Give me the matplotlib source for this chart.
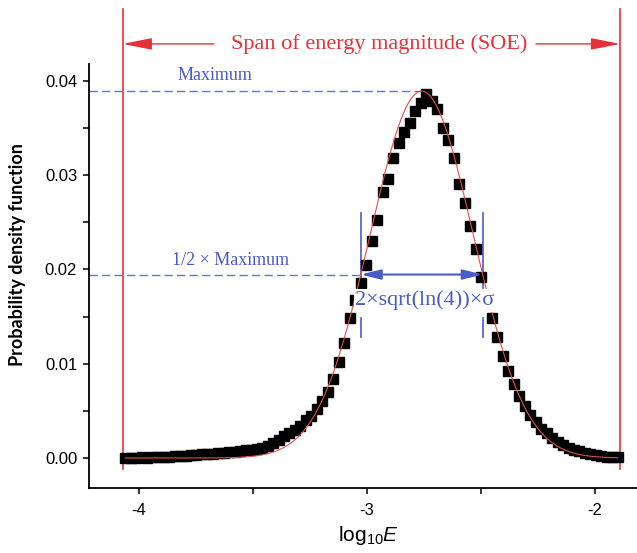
import matplotlib
matplotlib.use("Agg")
import matplotlib.pyplot as plt
import numpy as np
from matplotlib.ticker import MultipleLocator

plt.rcParams['font.family'] = ['Liberation Sans', 'DejaVu Sans']
plt.rcParams['mathtext.fontset'] = 'custom'
plt.rcParams['mathtext.rm'] = 'Liberation Sans'
plt.rcParams['mathtext.it'] = 'Liberation Sans:italic'

# histogram of log10(E): bin centres and probability density
log_e = [-4.060, -4.036, -4.012, -3.988, -3.964, -3.940, -3.916, -3.892, -3.868, -3.844,
         -3.820, -3.796, -3.772, -3.748, -3.724, -3.700, -3.676, -3.652, -3.628, -3.604,
         -3.580, -3.556, -3.532, -3.508, -3.484, -3.460, -3.436, -3.412, -3.388, -3.364,
         -3.340, -3.316, -3.292, -3.268, -3.244, -3.220, -3.196, -3.172, -3.148, -3.124,
         -3.100, -3.076, -3.052, -3.028, -3.004, -2.980, -2.956, -2.932, -2.908, -2.884,
         -2.860, -2.836, -2.812, -2.788, -2.764, -2.740, -2.716, -2.692, -2.668, -2.644,
         -2.620, -2.596, -2.572, -2.548, -2.524, -2.500, -2.476, -2.452, -2.428, -2.404,
         -2.380, -2.356, -2.332, -2.308, -2.284, -2.260, -2.236, -2.212, -2.188, -2.164,
         -2.140, -2.116, -2.092, -2.068, -2.044, -2.020, -1.996, -1.972, -1.948, -1.924,
         -1.900]
pdf = [0.0000, 0.0000, 0.0000, 0.0001, 0.0000, 0.0001, 0.0001, 0.0001, 0.0001, 0.0002,
       0.0002, 0.0002, 0.0003, 0.0003, 0.0004, 0.0004, 0.0004, 0.0005, 0.0005, 0.0006,
       0.0006, 0.0007, 0.0008, 0.0009, 0.0010, 0.0011, 0.0013, 0.0016, 0.0019, 0.0023,
       0.0026, 0.0030, 0.0034, 0.0040, 0.0045, 0.0052, 0.0060, 0.0070, 0.0084, 0.0102,
       0.0122, 0.0148, 0.0168, 0.0186, 0.0205, 0.0230, 0.0252, 0.0282, 0.0296, 0.0318,
       0.0334, 0.0346, 0.0355, 0.0368, 0.0376, 0.0386, 0.0378, 0.0370, 0.0350, 0.0337,
       0.0318, 0.0290, 0.0270, 0.0246, 0.0222, 0.0192, 0.0170, 0.0148, 0.0128, 0.0108,
       0.0092, 0.0078, 0.0066, 0.0055, 0.0046, 0.0038, 0.0031, 0.0026, 0.0021, 0.0017,
       0.0014, 0.0011, 0.0009, 0.0007, 0.0005, 0.0004, 0.0003, 0.0002, 0.0001, 0.0001,
       0.0001]

# gaussian fit parameters
fit_center = -2.760
fit_sigma = 0.227
fit_peak = 0.0389

# span of energy magnitude (SOE)
soe_min = -4.0715
soe_max = -1.890

red = '#e8303a'
blue = '#4a5bc8'
blue_dash = '#6474dc'

fig = plt.figure(figsize=(6.37, 5.53), dpi=100)
ax = fig.add_axes([0.1397, 0.1175, 0.8603, 0.7668])

xs = np.linspace(log_e[0], log_e[-1], 400)
fit = fit_peak * np.exp(-(xs - fit_center) ** 2 / (2 * fit_sigma ** 2))

ax.plot(log_e, pdf, 's', color='black', ms=6.5, zorder=3)
ax.plot(xs, fit, color='#e05050', lw=0.8, zorder=4)

ax.set_xlim(-4.2193, -1.8158)
ax.set_ylim(-0.00318, 0.04177)
ax.spines['top'].set_visible(False)
ax.spines['right'].set_visible(False)
for s in ['left', 'bottom']:
    ax.spines[s].set_linewidth(1.3)
ax.xaxis.set_major_locator(MultipleLocator(1))
ax.xaxis.set_minor_locator(MultipleLocator(0.5))
ax.yaxis.set_major_locator(MultipleLocator(0.01))
ax.yaxis.set_minor_locator(MultipleLocator(0.005))
ax.xaxis.set_major_formatter(plt.FuncFormatter(lambda v, p: '%d' % v))
ax.yaxis.set_major_formatter(plt.FuncFormatter(lambda v, p: '%.2f' % v))
ax.tick_params(which='both', direction='out', length=4.5, width=1.1, labelsize=12, pad=4)
ax.tick_params(axis='x', pad=6)

fig.text(0.028, 0.54, 'Probability density function', rotation=90,
         ha='center', va='center', fontsize=13, fontweight='bold', family='Lato')
fig.text(0.579, 0.032, r'log$_{10}$$\mathit{E}$', ha='center', va='center', fontsize=15)

# SOE bounds and arrows
for xv in (soe_min, soe_max):
    ax.plot([xv, xv], [-0.00117, 0.0476], color=red, lw=1.2, clip_on=False)
ax.text(-2.947, 0.0439, 'Span of energy magnitude (SOE)', color=red, ha='center',
        va='center', fontsize=16, family='Liberation Serif')
arr = dict(arrowstyle='-|>,head_length=0.9,head_width=0.18', color=red, lw=1.0,
           mutation_scale=20, shrinkA=0, shrinkB=0)
ax.annotate('', xy=(soe_min, 0.0439), xytext=(-3.671, 0.0439), arrowprops=arr,
            annotation_clip=False)
ax.annotate('', xy=(soe_max, 0.0439), xytext=(-2.259, 0.0439), arrowprops=arr,
            annotation_clip=False)

# maximum and half maximum
half = fit_peak / 2
hw = np.sqrt(2 * np.log(2)) * fit_sigma
x_lo, x_hi = fit_center - hw, fit_center + hw
ax.plot([-4.2193, -2.754], [fit_peak, fit_peak], ls=(0, (6, 3)), color=blue_dash, lw=1.0)
ax.plot([-4.2193, x_lo], [half, half], ls=(0, (6, 3)), color=blue_dash, lw=1.0)
ax.text(-3.833, 0.0396, 'Maximum', color=blue, fontsize=13, family='Liberation Serif',
        ha='left', va='bottom')
ax.text(-3.855, 0.0200, '1/2 × Maximum', color=blue, fontsize=13,
        family='Liberation Serif', ha='left', va='bottom')

# FWHM markers
for xv in (x_lo, x_hi):
    ax.plot([xv, xv], [0.0180, 0.0260], color=blue, lw=1.2)
    ax.plot([xv, xv], [0.01283, 0.01484], color=blue, lw=1.2)
ax.annotate('', xy=(x_lo, half), xytext=(x_hi, half),
            arrowprops=dict(arrowstyle='<|-|>,head_length=0.8,head_width=0.2',
                            color=blue, lw=1.5, mutation_scale=15, shrinkA=0, shrinkB=0))
ax.text(-2.746, 0.0167, '2×sqrt(ln(4))×σ', color=blue, ha='center', va='center',
        fontsize=16, family=['Liberation Serif', 'DejaVu Sans'], zorder=6,
        bbox=dict(facecolor='white', edgecolor='none', pad=1))

fig.savefig('out.png', dpi=100)
